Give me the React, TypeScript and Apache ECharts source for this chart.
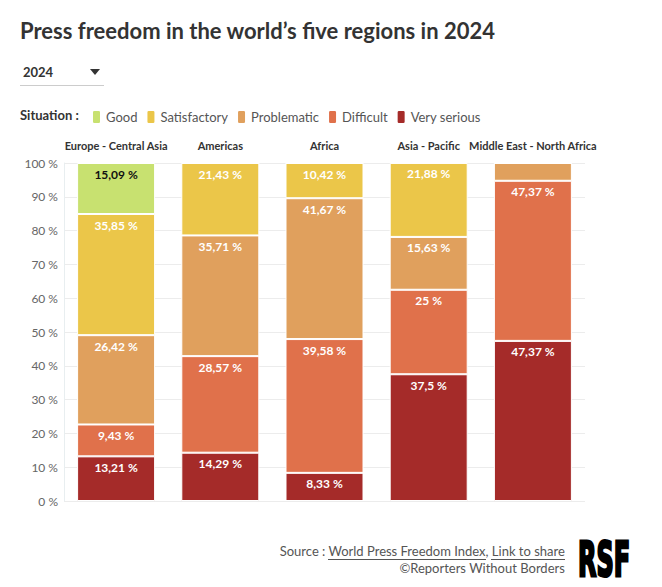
import React, { useEffect, useRef } from "react";
import * as echarts from "echarts";

const categories = ["Europe - Central Asia", "Americas", "Africa", "Asia - Pacific", "Middle East - North Africa"];
const situations = ["Good", "Satisfactory", "Problematic", "Difficult", "Very serious"];
const good = [15.09, 0, 0, 0, 0];
const satisfactory = [35.85, 21.43, 10.42, 21.88, 0];
const problematic = [26.42, 35.71, 41.67, 15.63, 5.26];
const difficult = [9.43, 28.57, 39.58, 25, 47.37];
const verySerious = [13.21, 14.29, 8.33, 37.5, 47.37];
const yTicks = [0, 10, 20, 30, 40, 50, 60, 70, 80, 90, 100];

const colors: Record<string, string> = {
  Good: "#c8e170",
  Satisfactory: "#ebc649",
  Problematic: "#e0a05d",
  Difficult: "#e0714b",
  "Very serious": "#a52b29",
};

const FONT = "Lato, 'Noto Sans', sans-serif";

export default function App() {
  const ref = useRef<HTMLDivElement>(null);
  useEffect(() => {
    document.body.style.margin = "0";
    if (!ref.current) return;
    const chart = echarts.init(ref.current, undefined, { renderer: "svg" });
    const seriesDefs: [string, number[]][] = [
      ["Very serious", verySerious],
      ["Difficult", difficult],
      ["Problematic", problematic],
      ["Satisfactory", satisfactory],
      ["Good", good],
    ];
    const fmt = (v: number) => String(v).replace(".", ",") + " %";
    chart.setOption({
      animation: false,
      textStyle: { fontFamily: FONT },
      grid: { left: 64, right: 77, top: 163, bottom: 86 },
      legend: {
        data: situations,
        left: 91,
        top: 109,
        padding: 0,
        icon: "roundRect",
        itemWidth: 9,
        itemHeight: 14,
        itemGap: 8,
        selectedMode: false,
        textStyle: { fontFamily: FONT, fontSize: 13, color: "#555" },
      },
      xAxis: {
        type: "category",
        data: categories,
        position: "top",
        axisLine: { show: false },
        axisTick: { show: true, alignWithLabel: true, length: 6, lineStyle: { color: "#e6e6e6" } },
        axisLabel: { fontFamily: FONT, fontSize: 11, fontWeight: "bold", color: "#333", margin: 12, interval: 0 },
      },
      yAxis: {
        type: "value",
        min: 0,
        max: 100,
        interval: 10,
        axisLine: { show: true, lineStyle: { color: "#e8eef0" } },
        axisTick: { show: false },
        splitLine: { lineStyle: { color: "#ececec" } },
        axisLabel: {
          fontFamily: FONT,
          fontSize: 12,
          color: "#666",
          margin: 6,
          formatter: (v: number) => (yTicks.includes(v) ? v + " %" : ""),
        },
      },
      series: seriesDefs.map(([name, vals]) => ({
        name,
        type: "bar",
        stack: "total",
        barWidth: 78,
        data: vals,
        itemStyle: { color: colors[name], borderColor: "#fff", borderWidth: 1 },
        label: {
          show: true,
          position: "insideTop",
          distance: 5,
          fontFamily: FONT,
          fontSize: 12,
          fontWeight: "bold",
          color: name === "Good" ? "#111" : "#fff",
          formatter: (p: any) => (p.value >= 6 ? fmt(p.value) : ""),
        },
      })),
      graphic: [
        {
          type: "text",
          left: 20,
          top: 19,
          style: { text: "Press freedom in the world\u2019s five regions in 2024", font: `bold 22px ${FONT}`, fill: "#333" },
        },
        {
          type: "text",
          left: 23,
          top: 65,
          style: { text: "2024", font: `bold 13px ${FONT}`, fill: "#333" },
        },
        {
          type: "polygon",
          shape: { points: [[90, 69], [100, 69], [95, 75]] },
          style: { fill: "#333" },
        },
        {
          type: "line",
          shape: { x1: 20, y1: 85.5, x2: 104, y2: 85.5 },
          style: { stroke: "#ccc", lineWidth: 1 },
        },
        {
          type: "text",
          left: 20,
          top: 108,
          style: { text: "Situation :", font: `bold 13px ${FONT}`, fill: "#333" },
        },
        {
          type: "text",
          right: 97,
          top: 544,
          style: { text: "Source : World Press Freedom Index, Link to share", font: `13px ${FONT}`, fill: "#555" },
        },
        {
          type: "line",
          shape: { x1: 328, y1: 559.5, x2: 486, y2: 559.5 },
          style: { stroke: "#555", lineWidth: 1 },
        },
        {
          type: "line",
          shape: { x1: 491, y1: 559.5, x2: 565, y2: 559.5 },
          style: { stroke: "#555", lineWidth: 1 },
        },
        {
          type: "text",
          right: 97,
          top: 561,
          style: { text: "\u00a9Reporters Without Borders", font: `13px ${FONT}`, fill: "#555" },
        },
        {
          type: "text",
          x: 578,
          y: 559.5,
          scaleX: 0.5,
          scaleY: 1,
          style: {
            text: "RSF",
            font: `bold 48px 'DejaVu Sans', sans-serif`,
            fill: "#000",
            stroke: "#000",
            lineWidth: 3,
            align: "left",
            verticalAlign: "middle",
          },
        },
      ],
    });
    return () => chart.dispose();
  }, []);
  return <div ref={ref} style={{ width: 662, height: 587 }} />;
}
